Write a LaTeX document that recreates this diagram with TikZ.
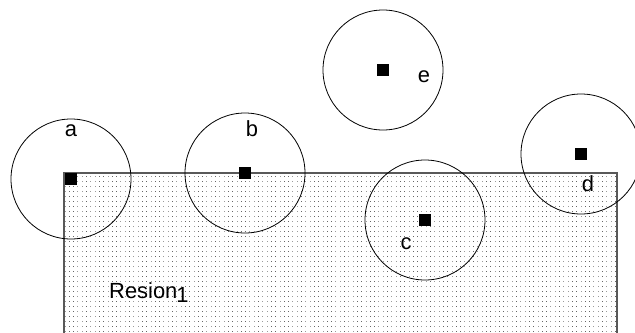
\documentclass[tikz,border=0pt]{standalone}
\usepackage{fontspec}
\setmainfont{Liberation Sans}
\usetikzlibrary{patterns}

\pgfdeclarepatternformonly{regiondots}{\pgfpointorigin}{\pgfpoint{1bp}{1bp}}
  {\pgfpoint{4.3bp}{5bp}}
  {\pgfpathrectangle{\pgfpointorigin}{\pgfpoint{1bp}{1bp}}\pgfusepath{fill}}

\tikzset{
  site/.style={fill=black, inner sep=0pt, minimum size=12bp},
  reach/.style={draw=black, line width=0.8bp},
  tag/.style={font=\fontsize{22}{22}\selectfont, inner sep=0pt}
}

\begin{document}
\begin{tikzpicture}[x=1bp, y=-1bp]

    \useasboundingbox (0,0) rectangle (635,332);
    \clip (0,0) rectangle (635,332);

    % Region (dotted area, runs off the bottom)
    \draw[pattern=regiondots, pattern color=black!60,
      draw=black!65, line width=1.4bp]
      (64,173) rectangle (617,345);

    \node[tag, anchor=base west] (region) at (109,298)
      {Resion\kern-1bp\raisebox{-4bp}{1}};

    % Points
    \node[site] (a) at (71,179) {};
    \node[site] (b) at (245,173) {};
    \node[site] (c) at (425,220) {};
    \node[site] (d) at (581,154) {};
    \node[site] (e) at (383,70) {};

    % Reach round each point
    \foreach \p in {a, b, c, d, e} {
      \draw[reach] (\p) circle (60);
    }

    % Labels
    \node[tag] (la) at (71,131) {a};
    \node[tag] (lb) at (252,129) {b};
    \node[tag] (lc) at (406,244) {c};
    \node[tag] (ld) at (588,184) {d};
    \node[tag] (le) at (424,77) {e};

\end{tikzpicture}
\end{document}
